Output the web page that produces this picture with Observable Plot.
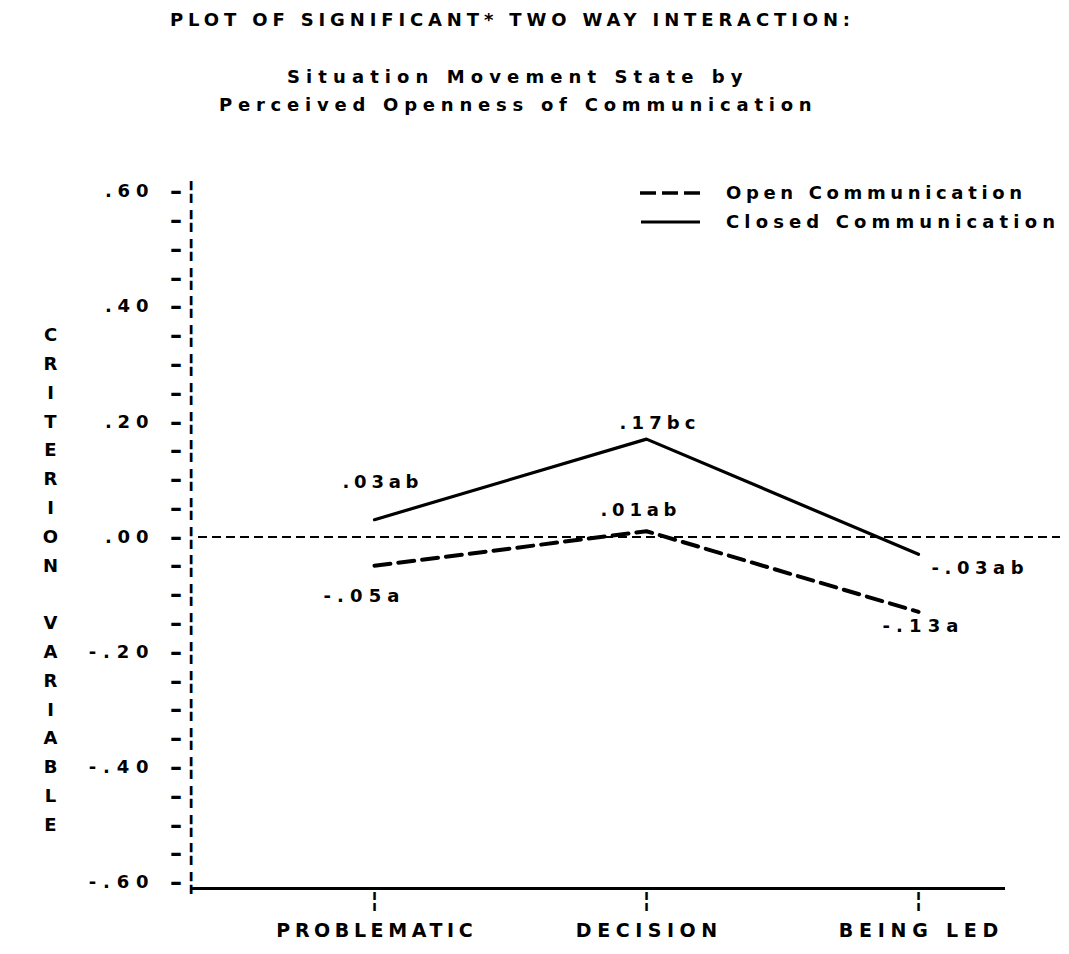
<!DOCTYPE html>
<html>
<head>
<meta charset="utf-8">
<script src="https://cdn.jsdelivr.net/npm/d3@7"></script>
<script src="https://cdn.jsdelivr.net/npm/@observablehq/plot@0.6"></script>
<style>
  html, body { margin: 0; padding: 0; background: #fff; }
  #wrap { position: relative; width: 1069px; height: 954px; overflow: hidden; background: #fff; }
  .t { position: absolute; font-family: "DejaVu Sans", "Liberation Sans", sans-serif; font-weight: bold; font-size: 18px; color: #000; white-space: pre; line-height: 20px; }
  #chart { position: absolute; left: 0; top: 0; }
  .leg { position: absolute; left: 640px; }
</style>
</head>
<body>
<div id="wrap">
  <div id="chart"></div>
  <div id="title" class="t" style="left:170px; top:10px;" data-pitch="16.7"></div>
  <div id="sub1" class="t" style="left:287px; top:67px;" data-pitch="17.1"></div>
  <div id="sub2" class="t" style="left:219px; top:95px;" data-pitch="17.1"></div>
  <svg class="leg" style="top:188px" width="62" height="10"><line x1="0" x2="60" y1="5" y2="5" stroke="#000" stroke-width="3.5" stroke-dasharray="16,6"/></svg>
  <svg class="leg" style="top:217px" width="62" height="10"><line x1="1" x2="60" y1="5" y2="5" stroke="#000" stroke-width="3"/></svg>
  <div id="leg1" class="t" style="left:726px; top:183px;" data-pitch="16.7"></div>
  <div id="leg2" class="t" style="left:726px; top:212px;" data-pitch="16.7"></div>
</div>
<script>
// ---- data ----
const categories = ["PROBLEMATIC", "DECISION", "BEING LED"];
const openValues = [-0.05, 0.01, -0.13];
const closedValues = [0.03, 0.17, -0.03];
const openLabels = ["-.05a", ".01ab", "-.13a"];
const closedLabels = [".03ab", ".17bc", "-.03ab"];
const seriesNames = ["Open Communication", "Closed Communication"];
const yTickValues = [0.6, 0.4, 0.2, 0, -0.2, -0.4, -0.6];
const yMinorStep = 0.05;
const yAxisTitle = "CRITERION VARIABLE";
const titleText = "PLOT OF SIGNIFICANT* TWO WAY INTERACTION:";
const subtitleLines = ["Situation Movement State by", "Perceived Openness of Communication"];

document.getElementById("title").textContent = titleText;
document.getElementById("sub1").textContent = subtitleLines[0];
document.getElementById("sub2").textContent = subtitleLines[1];
document.getElementById("leg1").textContent = seriesNames[0];
document.getElementById("leg2").textContent = seriesNames[1];

// ---- tables ----
const openRows = categories.map((c, i) => ({cat: c, value: openValues[i], label: openLabels[i]}));
const closedRows = categories.map((c, i) => ({cat: c, value: closedValues[i], label: closedLabels[i]}));
const minorTicks = d3.range(Math.round(1.2 / yMinorStep) + 1).map(i => +(-0.6 + i * yMinorStep).toFixed(2));
const letterRows = yAxisTitle.split("").map((ch, i) => ({ch, y: +(0.35 - i * yMinorStep).toFixed(2)}))
  .filter(d => d.ch !== " ");

const fmt = d => d === 0 ? ".00" : (d < 0 ? "-" : "") + Math.abs(d).toFixed(2).slice(1);

// label placement (style only)
const openPlace = [{dx: -13, dy: 30}, {dx: -8, dy: -21}, {dx: 2, dy: 14}];
const closedPlace = [{dx: 6, dy: -37}, {dx: 11, dy: -16}, {dx: 13, dy: 14, anchor: "start"}];
const labelMarks = [
  ...openRows.map((r, i) => Plot.text([r], {x: "cat", y: "value", text: "label", dx: openPlace[i].dx, dy: openPlace[i].dy, textAnchor: openPlace[i].anchor || "middle"})),
  ...closedRows.map((r, i) => Plot.text([r], {x: "cat", y: "value", text: "label", dx: closedPlace[i].dx, dy: closedPlace[i].dy, textAnchor: closedPlace[i].anchor || "middle"}))
];

const plot = Plot.plot({
  width: 1069,
  height: 954,
  marginTop: 191,
  marginBottom: 72,
  marginLeft: 190,
  marginRight: 9,
  style: {fontFamily: "DejaVu Sans, Liberation Sans, sans-serif", fontWeight: "bold", fontSize: "18px", color: "#000", background: "transparent"},
  x: {type: "point", domain: categories, padding: 0, insetLeft: 184, insetRight: 142, axis: null},
  y: {domain: [-0.6, 0.6], axis: null},
  marks: [
    Plot.ruleY([0], {stroke: "#000", strokeWidth: 2, strokeDasharray: "9,5", insetLeft: 8}),
    Plot.ruleY([-0.6], {stroke: "#000", strokeWidth: 3, dy: 6, insetRight: 55}),
    Plot.text(minorTicks, {y: d => d, text: () => "\u2013\u2009\u00a6", frameAnchor: "left", textAnchor: "end", dx: 5, fontSize: 24}),
    Plot.text(yTickValues, {y: d => d, text: d => fmt(d), frameAnchor: "left", textAnchor: "end", dx: -42}),
    Plot.text(letterRows, {y: "y", text: "ch", frameAnchor: "left", textAnchor: "middle", dx: -140}),
    Plot.text(categories, {x: d => d, text: () => "\u00a6", frameAnchor: "bottom", dy: 24, fontSize: 22}),
    Plot.text(categories, {x: d => d, text: d => d, frameAnchor: "bottom", dy: 54, fontSize: 19}),
    Plot.line(openRows, {x: "cat", y: "value", stroke: "#000", strokeWidth: 4, strokeDasharray: "16,8"}),
    Plot.line(closedRows, {x: "cat", y: "value", stroke: "#000", strokeWidth: 3.2}),
    ...labelMarks
  ]
});
document.getElementById("chart").appendChild(plot);

// typewriter-like fixed pitch for multi-character texts
const catSet = new Set(categories);
d3.select(plot).selectAll("text").each(function () {
  const s = this.textContent;
  if (s.length < 3 || s.includes("\u00a6")) return;
  const pitch = catSet.has(s) ? 18.3 : 16.2;
  this.setAttribute("textLength", (s.length * pitch - 5).toFixed(1));
  this.setAttribute("lengthAdjust", "spacing");
});
document.querySelectorAll(".t[data-pitch]").forEach(el => {
  const p = +el.dataset.pitch;
  const n = el.textContent.length;
  el.style.letterSpacing = "0px";
  const w = el.getBoundingClientRect().width;
  el.style.letterSpacing = ((n * p - w) / n).toFixed(2) + "px";
});
</script>
</body>
</html>
